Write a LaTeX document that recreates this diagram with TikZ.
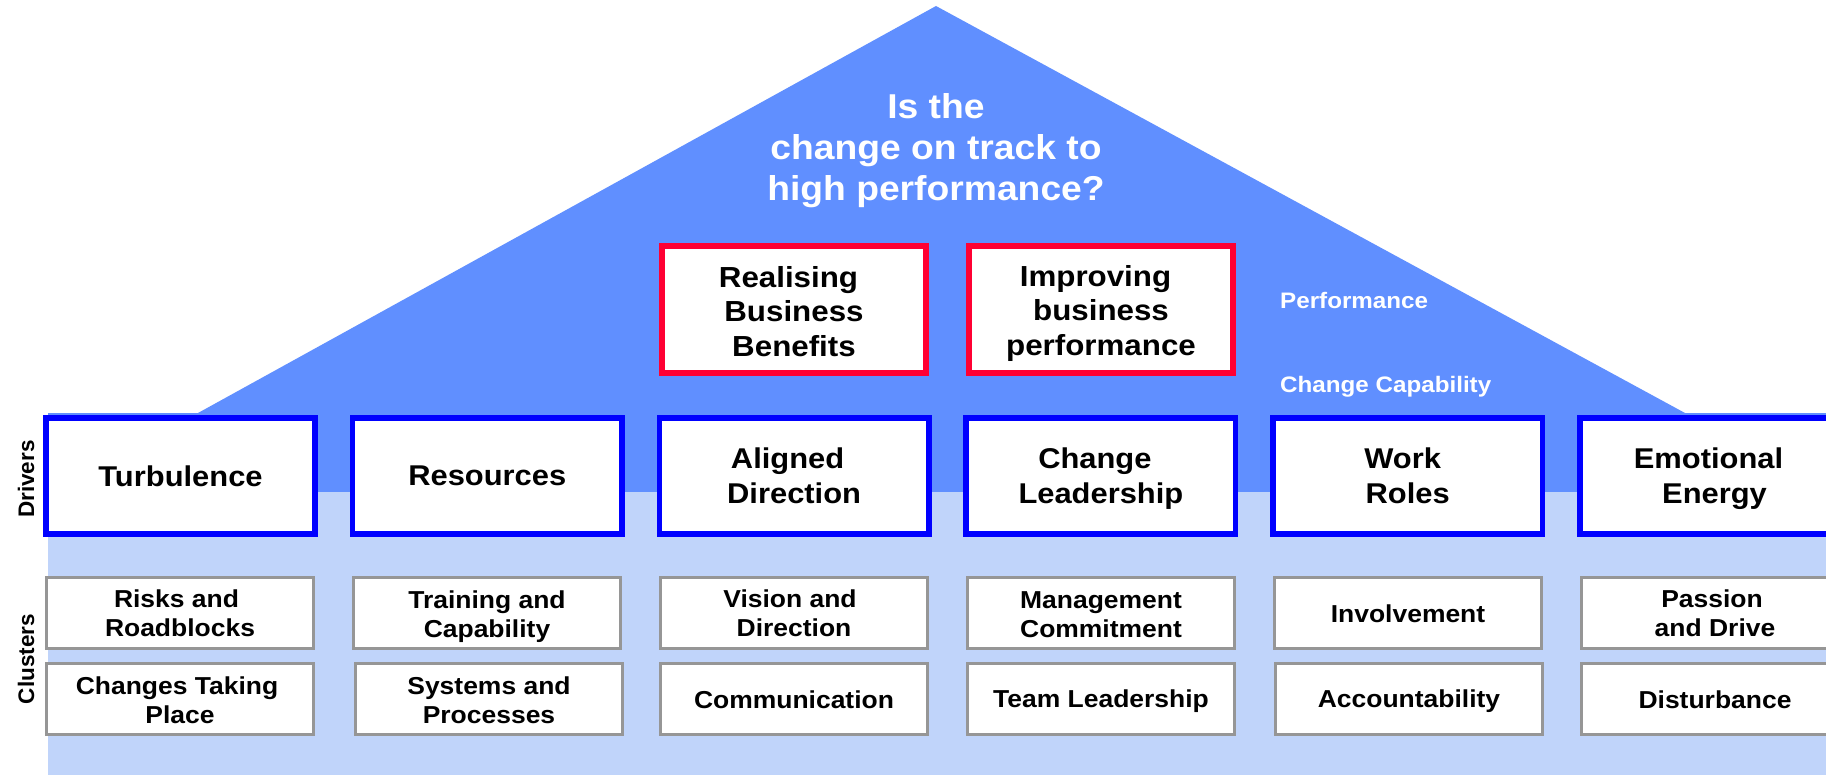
\documentclass[tikz,border=0pt]{standalone}
\usepackage{fontspec}
\setmainfont{Liberation Sans}[FakeStretch=1.08]
\newfontfamily\sidefont{Liberation Sans}
\definecolor{roofblue}{RGB}{96,143,255}
\definecolor{baseblue}{RGB}{192,212,250}
\definecolor{driverblue}{RGB}{0,0,255}
\definecolor{outcomered}{RGB}{255,0,51}
\definecolor{clustergray}{RGB}{150,150,150}
% trailing gap that pushes a centred line slightly to the left
\newcommand{\tgap}[1]{\hspace*{#1}}
\begin{document}
\begin{tikzpicture}[x=1pt,y=-1pt,
  driverbox/.style={draw=driverblue, line width=5.6pt, fill=white, inner sep=0pt,
    minimum width=269.4pt, minimum height=116.4pt},
  outcomebox/.style={draw=outcomered, line width=5.6pt, fill=white, inner sep=0pt,
    minimum width=264.4pt, minimum height=127.4pt},
  clusterbox/.style={draw=clustergray, line width=2.7pt, fill=white, inner sep=0pt,
    minimum width=267.3pt, minimum height=71.3pt},
  drivertext/.style={align=center, inner sep=0pt, font=\fontsize{28.6}{35}\selectfont\bfseries},
  outcometext/.style={align=center, inner sep=0pt, font=\fontsize{29}{34.4}\selectfont\bfseries},
  clustertext/.style={align=center, inner sep=0pt, font=\fontsize{24.5}{29}\selectfont\bfseries},
  rowlabel/.style={rotate=90, inner sep=0pt, font=\sidefont\fontsize{22.5}{22.5}\selectfont\bfseries},
  levellabel/.style={anchor=west, inner sep=0pt, text=white, font=\fontsize{22.4}{26}\selectfont\bfseries},
  headline/.style={align=center, inner sep=0pt, text=white, font=\fontsize{34.5}{41}\selectfont\bfseries}]
\useasboundingbox (0,0) rectangle (1826,778);
\clip (0,0) rectangle (1826,778);

% house: light base, dark roof and eaves band
\fill[baseblue] (48,492) rectangle (1826,775);
\fill[roofblue] (48,413) rectangle (1826,492);
\fill[roofblue] (198,413) -- (936,6) -- (1685,413) -- cycle;

% headline question
\node[headline] (question) at (936,150.5) {Is the\\change on track to\\high performance?};

% level labels
\node[levellabel] (perf) at (1280,300) {Performance};
\node[levellabel] (capab) at (1280,387) {Change Capability};

% outcomes
\node[outcomebox] (realising) at (794,309.5) {};
\node[outcometext] (realisingtext) at ([yshift=-2pt]realising.center) {Realising\tgap{11pt}\\Business\tgap{11pt}\\Benefits};
\node[outcomebox] (improving) at (1101,309.5) {};
\node[outcometext] (improvingtext) at ([yshift=-4pt]improving.center) {Improving\tgap{11pt}\\business\tgap{9pt}\\performance};

% drivers
\node[driverbox] (turbulence) at (180.5,476) {};
\node[drivertext] (turbulencetext) at (turbulence.center) {Turbulence};
\node[driverbox] (resources) at (487.3,476) {};
\node[drivertext] (resourcestext) at (resources.center) {Resources};
\node[driverbox] (aligned) at (794.1,476) {};
\node[drivertext] (alignedtext) at (aligned.center) {Aligned\tgap{13pt}\\Direction};
\node[driverbox] (leadership) at (1100.9,476) {};
\node[drivertext] (leadershiptext) at ([yshift=-2.5pt]leadership.center) {Change\tgap{12pt}\\Leadership};
\node[driverbox] (workroles) at (1407.7,476) {};
\node[drivertext] (workrolestext) at (workroles.center) {Work\tgap{10pt}\\Roles};
\node[driverbox] (energy) at (1714.5,476) {};
\node[drivertext] (energytext) at ([yshift=-2.5pt]energy.center) {Emotional\tgap{12pt}\\Energy};

% clusters, first row
\node[clusterbox] (risks) at (180,613) {};
\node[clustertext] (riskstext) at ([yshift=-0.5pt]risks.center) {Risks and\tgap{7pt}\\Roadblocks};
\node[clusterbox] (training) at (487,613) {};
\node[clustertext] (trainingtext) at ([yshift=-3.5pt]training.center) {Training and\\Capability};
\node[clusterbox] (vision) at (794,613) {};
\node[clustertext] (visiontext) at ([yshift=-0.5pt]vision.center) {Vision and\tgap{8pt}\\Direction};
\node[clusterbox] (mgmt) at (1101,613) {};
\node[clustertext] (mgmttext) at ([yshift=-1.5pt]mgmt.center) {Management\\Commitment};
\node[clusterbox] (involve) at (1408,613) {};
\node[clustertext] (involvetext) at ([yshift=-1pt]involve.center) {Involvement};
\node[clusterbox] (passion) at (1715,613) {};
\node[clustertext] (passiontext) at ([yshift=-0.5pt]passion.center) {Passion\tgap{6pt}\\and Drive};

% clusters, second row
\node[clusterbox] (changes) at (180,699) {};
\node[clustertext] (changestext) at ([yshift=-1pt]changes.center) {Changes Taking\tgap{6pt}\\Place};
\node[clusterbox] (systems) at (489,699) {};
\node[clustertext] (systemstext) at ([yshift=-1pt]systems.center) {Systems and\\Processes};
\node[clusterbox] (comms) at (794,699) {};
\node[clustertext] (commstext) at ([yshift=-1pt]comms.center) {Communication};
\node[clusterbox] (teamlead) at (1101,699) {};
\node[clustertext] (teamleadtext) at ([yshift=-2.5pt]teamlead.center) {Team Leadership};
\node[clusterbox] (account) at (1409,699) {};
\node[clustertext] (accounttext) at ([yshift=-2.5pt]account.center) {Accountability};
\node[clusterbox] (disturb) at (1715,699) {};
\node[clustertext] (disturbtext) at ([yshift=-1pt]disturb.center) {Disturbance};

% row labels
\node[rowlabel] (driverslabel) at (26,479) {Drivers};
\node[rowlabel] (clusterslabel) at (26,659) {Clusters};
\end{tikzpicture}
\end{document}
